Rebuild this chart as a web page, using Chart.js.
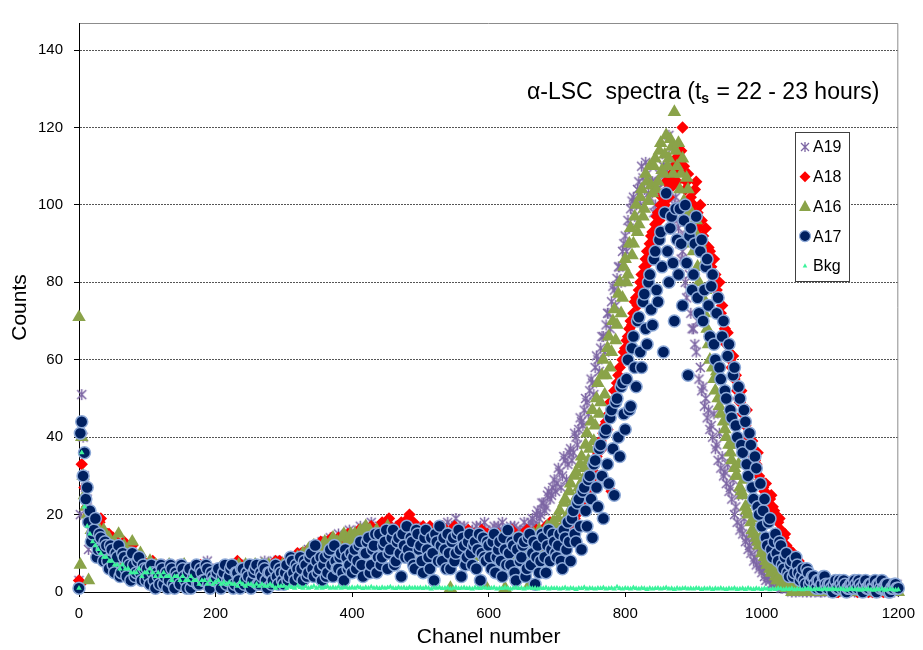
<!DOCTYPE html>
<html>
<head>
<meta charset="utf-8">
<script src="https://cdn.jsdelivr.net/npm/chart.js@4.4.0/dist/chart.umd.min.js"></script>
<style>html,body{margin:0;padding:0;background:#fff}</style>
</head>
<body>
<canvas id="chart" width="923" height="650"></canvas>
<script>
// sample spectra: one point every 2 channels, background: every 4 channels
var channels = [];
for (var c = 0; c <= 1200; c += 2) channels.push(c);
var bkgChannels = [];
for (var b = 0; b <= 1200; b += 4) bkgChannels.push(b);

var yTicks = [0, 20, 40, 60, 80, 100, 120, 140];
var xTicks = [0, 200, 400, 600, 800, 1000, 1200];

// counts, 50 values per 100 channels
var a19 = [
  3,20,51,40,30,27,24,11,20,18, 17,16,15,14,18,12,13,15,12,10, 14,11,10,13,11,8,9,10,12,7, 8,9,10,11,7,6,9,8,6,7, 8,5,7,6,5,8,6,4,4,5,
  5,6,7,4,3,5,6,3,4,7, 5,4,2,5,6,3,4,6,3,5, 5,3,7,4,3,6,4,5,6,3, 2,5,5,4,3,6,4,3,6,5, 5,4,3,6,8,3,4,5,6,4,
  4,5,6,4,3,6,5,3,7,5, 4,6,2,4,6,3,5,7,3,5, 7,4,4,6,6,3,5,7,3,5, 7,4,4,6,6,5,8,4,5,7, 7,5,6,8,4,6,8,5,6,7,
  7,6,5,7,8,5,6,8,9,7, 7,9,10,8,6,7,8,10,11,9, 9,11,12,8,7,12,10,9,13,11, 9,13,11,10,14,12,10,13,12,11, 15,12,11,14,13,11,10,15,16,13,
  13,14,15,11,12,16,17,13,14,15, 16,12,13,17,18,14,15,13,12,16, 17,15,14,13,16,17,13,12,15,14, 11,16,17,13,14,15,12,17,16,11, 13,16,15,12,10,14,14,17,12,13,
  14,12,11,16,15,14,13,11,16,15, 12,16,14,13,17,15,13,17,15,12, 18,15,14,17,16,13,19,16,15,17, 13,15,17,14,14,16,12,15,16,13, 15,17,13,15,17,12,14,18,16,14,
  15,14,13,16,17,12,14,17,16,15, 18,14,13,16,15,13,17,15,14,17, 16,13,12,16,15,14,18,16,14,17, 16,18,19,17,17,20,21,19,20,23, 23,21,22,25,26,24,25,27,29,26,
  28,32,31,27,30,35,34,29,33,36, 37,34,36,41,40,38,42,45,44,43, 47,50,49,46,52,55,54,51,58,61, 60,57,63,66,66,62,69,72,72,68, 75,79,78,74,81,84,84,80,88,90,
  92,88,96,94,99,101,102,97,100,104, 106,100,110,107,104,111,108,103,102,106, 106,98,100,104,104,108,98,103,110,106, 113,110,118,108,106,111,100,102,96,94, 90,86,88,92,80,76,78,82,72,68,
  68,64,62,70,55,58,52,53,48,50, 45,47,42,43,40,46,37,38,34,41, 32,35,30,31,28,33,26,27,24,29, 20,22,18,25,16,17,15,19,13,14, 11,12,10,14,8,9,7,11,6,7,
  5,6,4,3,4,5,3,2,2,4, 3,2,2,3,1,1,2,2,1,1, 1,2,0,1,1,0,2,1,1,2, 0,1,1,0,1,2,0,1,1,0, 2,1,1,0,0,1,1,2,1,0,
  1,2,0,1,2,0,1,1,1,2, 0,1,1,0,2,1,1,2,0,1, 1,0,1,2,2,1,0,1,1,0, 1,2,0,1,1,0,2,1,1,1, 0,2,1,0,1,1,2,0,1,2,
  1
];
var a18 = [
  3,2,33,30,27,24,22,20,19,17, 18,19,16,15,17,18,19,16,14,13, 13,15,15,11,12,14,11,12,13,9, 10,11,12,13,9,8,11,10,8,12, 10,7,9,9,7,6,8,8,6,7,
  7,6,5,7,8,3,4,5,6,4, 3,6,7,5,5,3,4,7,6,4, 2,5,5,6,7,4,3,5,6,3, 4,6,5,4,3,5,6,3,4,7, 5,4,2,6,6,3,4,5,5,4,
  3,5,6,4,4,6,5,3,7,5, 3,6,6,4,4,7,8,5,5,3, 3,6,6,4,4,5,7,6,5,3, 3,5,6,4,5,7,7,6,4,5, 6,4,5,7,8,5,6,8,7,6,
  5,7,8,6,6,8,9,7,7,9, 10,8,6,10,9,7,8,10,11,9, 7,11,10,8,12,10,8,13,11,9, 9,12,13,10,10,14,12,11,9,13, 14,12,11,14,13,11,10,15,12,13,
  11,13,14,12,12,16,15,14,13,11, 16,14,12,15,17,13,14,16,15,12, 13,17,18,15,16,13,14,19,17,15, 15,12,13,17,16,15,18,14,14,17, 17,19,20,16,15,18,13,15,16,14,
  14,16,17,13,12,15,15,17,16,12, 13,15,11,13,14,16,17,11,12,14, 15,12,10,13,14,17,16,11,13,15, 11,14,15,12,12,16,14,11,10,15, 13,12,15,14,11,16,14,10,12,15,
  13,11,10,14,15,12,12,15,14,10, 11,14,13,12,9,13,12,16,15,11, 11,13,14,12,10,15,13,11,16,14, 12,15,14,12,11,16,13,14,15,12, 12,15,17,13,14,18,16,15,13,16,
  15,14,13,16,17,15,16,18,19,17, 18,20,21,19,20,22,24,21,23,25, 27,24,26,28,30,29,32,31,34,35, 36,38,39,37,41,43,44,42,46,49, 26,48,52,50,54,56,58,55,60,62,
  63,65,66,68,70,69,72,75,76,74, 78,80,82,79,84,86,88,85,90,92, 93,91,95,97,98,96,100,102,103,100, 106,104,102,107,108,105,110,112,106,109, 112,114,120,110,104,106,108,100,102,98,
  100,104,106,98,94,100,96,92,90,94, 86,89,88,84,80,86,82,78,76,80, 72,74,70,68,64,67,62,60,58,61, 55,56,52,50,49,52,46,44,43,47, 40,41,38,39,35,34,33,36,30,29,
  28,27,26,28,25,23,24,25,22,21, 20,19,18,19,16,15,14,15,12,11, 11,10,9,10,8,7,7,8,6,5, 5,6,4,3,4,5,3,2,3,4, 2,3,2,1,1,2,2,1,1,2,
  1,2,2,1,1,0,0,1,2,1, 1,2,1,0,0,1,2,1,1,2, 0,1,1,0,2,1,1,2,0,1, 1,0,1,2,2,1,0,1,1,0, 1,2,0,1,1,0,2,1,1,2,
  1
];
var a16 = [
  71,7,40,30,25,22,20,3,18,16, 15,19,17,13,14,16,13,12,16,14, 12,10,14,13,11,9,13,12,10,15, 12,8,9,12,11,7,8,10,10,13, 7,8,9,6,8,10,6,7,7,5,
  6,7,8,4,5,6,7,3,4,5, 6,4,3,6,5,2,7,5,4,6, 6,3,2,5,5,4,3,7,6,2, 4,5,5,3,2,6,4,5,6,2, 3,6,5,3,4,5,2,4,5,3,
  3,4,5,6,4,2,6,5,2,4, 5,3,3,6,6,4,4,7,2,5, 5,3,7,5,3,6,6,4,4,7, 5,3,3,6,7,4,5,6,4,7, 6,4,3,6,7,5,5,3,6,7,
  5,6,7,5,4,7,8,5,6,8, 9,7,5,8,10,6,7,9,11,8, 8,10,12,7,6,11,10,8,9,12, 13,10,8,12,11,9,14,11,9,13, 12,10,10,14,15,12,11,13,13,15,
  12,14,15,11,10,13,16,12,13,15, 17,13,11,16,14,10,12,15,16,11, 10,14,15,12,13,16,17,13,11,15, 14,11,9,14,15,12,12,14,16,11, 10,13,14,16,13,11,15,12,11,14,
  14,12,10,15,13,11,9,13,15,10, 11,14,12,9,8,13,14,11,10,15, 13,9,1,12,12,10,9,15,14,11, 11,13,8,12,13,10,10,14,12,9, 7,12,14,10,9,13,11,2,13,10,
  10,11,12,9,8,12,13,10,11,14, 9,12,1,8,12,13,10,9,14,12, 8,11,11,14,13,10,9,13,12,10, 2,12,10,15,14,11,11,16,13,12, 15,14,12,17,16,13,14,18,18,16,
  15,19,21,16,17,23,24,19,20,26, 28,22,23,30,31,25,27,33,35,29, 32,38,41,34,37,44,47,39,43,50, 54,46,49,56,60,51,56,63,66,58, 62,70,73,65,69,77,80,72,76,84,
  86,80,82,90,94,87,90,97,100,93, 95,102,104,97,99,108,106,101,110,105, 103,110,112,104,106,114,116,109,108,113, 118,110,112,117,115,108,124,114,110,116, 104,108,112,101,98,107,104,99,94,90,
  88,93,96,84,80,90,84,76,72,78, 68,64,60,66,58,55,52,57,50,48, 46,50,44,42,40,45,38,36,34,38, 32,30,30,33,27,26,25,29,22,21, 20,23,18,16,15,19,14,13,12,14,
  10,11,9,8,7,9,6,5,5,6, 4,3,3,4,2,2,2,3,1,1, 1,2,0,1,1,0,0,1,1,0, 0,1,1,0,0,1,0,0,1,0, 0,1,1,0,0,1,0,0,1,0,
  0,1,0,0,1,0,1,0,0,1, 0,0,1,0,1,0,0,1,0,0, 1,0,0,1,0,0,1,0,1,0, 0,1,0,0,1,0,0,1,0,0, 1,0,1,0,0,1,0,0,1,0,
  0
];
var a17 = [
  1,41,44,30,36,24,27,18,21,13, 15,16,19,9,11,15,14,11,8,13, 12,8,6,12,11,7,5,10,9,12, 4,5,10,9,6,4,8,7,3,10, 7,4,5,8,9,5,3,7,6,3,
  6,4,2,7,5,3,1,5,4,2, 7,6,2,4,5,1,3,7,6,2, 1,5,4,3,2,7,6,4,3,1, 5,6,1,3,4,5,7,2,2,6, 5,3,3,7,6,2,1,5,4,3,
  3,5,6,2,1,4,5,7,2,3, 4,6,7,1,2,5,5,3,1,6, 6,2,3,5,4,7,1,3,5,6, 7,2,2,5,4,7,6,3,1,5, 5,2,3,6,7,4,2,6,5,3,
  2,5,7,3,4,9,8,5,3,7, 6,4,9,6,3,8,7,4,5,9, 10,6,4,12,8,5,6,9,3,7, 9,4,5,10,11,7,4,12,8,6, 6,9,10,5,3,11,9,6,7,10,
  5,9,11,6,8,12,13,7,4,10, 10,13,14,5,7,11,12,15,5,9, 15,7,9,12,13,16,6,10,11,14, 16,7,8,13,14,10,4,15,12,9, 17,11,9,14,13,7,6,16,15,11,
  12,8,5,14,16,11,9,6,14,10, 3,15,13,8,17,12,8,14,11,6, 15,10,6,13,14,8,10,15,16,11, 4,14,12,7,9,13,15,10,7,12, 13,6,11,15,3,10,14,9,8,13,
  12,9,6,13,15,5,9,11,13,8, 4,14,11,7,16,10,7,13,12,5, 3,11,14,8,9,12,13,4,6,14, 15,7,10,13,2,9,12,5,8,15, 14,9,5,12,16,8,11,15,13,10,
  9,12,15,8,6,16,14,11,18,13, 8,19,21,15,13,23,24,17,11,26, 27,21,17,29,30,24,14,33,34,27, 22,37,38,30,19,41,42,33,28,45, 47,37,25,49,50,40,35,53,54,46,
  42,55,60,47,48,63,66,58,53,70, 71,62,58,75,77,68,64,80,82,73, 69,86,88,78,75,91,93,84,62,98, 103,88,80,94,97,85,70,99,91,82, 99,90,74,96,100,85,56,92,94,78,
  82,90,97,76,72,88,91,70,78,84, 86,74,66,79,82,64,60,72,76,58, 55,66,70,52,50,61,64,47,45,56, 58,43,40,53,50,38,36,47,44,33, 30,41,38,27,24,35,32,22,20,28,
  17,21,24,14,12,18,19,11,9,13, 15,10,8,13,12,7,6,9,10,5, 4,7,8,4,5,9,7,5,3,4, 6,3,2,6,5,2,3,4,4,2, 1,3,3,1,2,4,4,2,1,2,
  2,1,0,2,3,1,1,3,2,1, 3,2,0,1,1,2,2,1,3,2, 1,3,2,1,0,2,3,1,1,2, 2,1,1,3,0,2,2,1,3,1, 1,2,2,0,0,1,1,2,2,1,
  1
];
var bkg = [
  1,36,22,17,15, 13,12,11,10,9, 9,8,8,7,7, 6,7,6,6,5, 5,5,6,4,5,
  5,6,5,4,5, 4,5,4,4,3, 4,4,3,4,3, 3,4,3,3,2, 3,3,2,3,2,
  2.5,3,2,2.5,2, 2.5,2,2,1.5,2.5, 2,1.5,2,2,1.5, 2,1.5,2,1.5,1.5, 2,1.5,1,1.5,1.5,
  1.5,1,1.5,1.2,1, 1.5,1.2,1,1.4,1, 1.2,1.5,1,1.3,1, 1.2,1.4,1,1.2,1, 1.3,1,1.2,1.1,1,
  1.2,1,1.3,1.1,0.9, 1.2,1,1.3,1,1.1, 0.9,1.2,1,1.1,1.3, 1,0.9,1.2,1,1.1, 0.9,1.2,1,1.1,1,
  1.1,0.9,1.2,1,0.8, 1.1,1,1.2,0.9,1, 1.1,0.8,1,1.2,0.9, 1,1.1,0.9,1,0.8, 1.1,1,0.9,1.2,1,
  0.9,1,1.1,0.8,1, 0.9,1.2,1,0.8,1, 1.1,0.9,1,0.8,1, 1.1,0.9,1,0.8,1, 0.9,1.1,0.8,1,0.9,
  1,0.8,0.9,1.1,0.8, 1,0.9,0.7,1,0.9, 1.2,0.8,1,0.9,0.8, 1,0.9,1.1,0.8,0.9, 1,0.8,1.3,0.9,0.8,
  1,0.9,0.8,1.1,0.9, 0.8,1,0.9,0.7,1, 0.8,0.9,1,0.8,0.9, 1.1,0.8,0.9,0.7,1, 0.8,0.9,1,0.8,0.9,
  0.8,1,0.9,0.7,0.9, 0.8,1,0.7,0.9,0.8, 1,0.8,0.7,0.9,0.8, 1,0.7,0.8,0.9,0.7, 1,0.8,0.7,0.9,0.8,
  0.7,0.9,0.8,0.6,0.8, 0.7,0.9,0.8,0.6,0.8, 0.7,0.9,0.6,0.8,0.7, 0.6,0.8,0.9,0.7,0.6, 0.8,0.7,0.6,0.8,0.7,
  0.6,0.8,0.7,0.6,0.8, 0.7,0.5,0.7,0.8,0.6, 0.7,0.5,0.7,0.6,0.8, 0.6,0.5,0.7,0.6,0.8, 0.5,0.6,0.7,0.6,0.5,
  0.6
];

var PURPLE = '#7d66a4', RED = '#ff0000', OLIVE = '#8aa349', NAVY = '#002060', NAVY_EDGE = '#8eaad8', MINT = '#3cf39c';
var FONT = '"Liberation Sans", Arial, sans-serif';

// excel style asterisk marker (vertical + X)
var starImg = function(size, lw){
  var cv = document.createElement('canvas');
  cv.width = size; cv.height = size;
  var g = cv.getContext('2d');
  g.strokeStyle = PURPLE; g.lineWidth = lw;
  var m = size / 2, e = 1;
  g.beginPath();
  g.moveTo(m, e); g.lineTo(m, size - e);
  g.moveTo(e + 1, e + 1); g.lineTo(size - e - 1, size - e - 1);
  g.moveTo(size - e - 1, e + 1); g.lineTo(e + 1, size - e - 1);
  g.stroke();
  return cv;
};
var star = starImg(13, 1.5);

var pts = function(xs, vals){
  return xs.map(function(c, i){ return {x: c, y: vals[i]}; });
};

var datasets = [
  {label: 'A19', data: pts(channels, a19), order: 5, pointStyle: star, pointRadius: 6.5,
   backgroundColor: PURPLE, borderColor: PURPLE},
  {label: 'A18', data: pts(channels, a18), order: 4, pointStyle: 'rectRot', pointRadius: 6.2,
   backgroundColor: RED, borderColor: RED, pointBorderWidth: 0},
  {label: 'A16', data: pts(channels, a16), order: 3, pointStyle: 'triangle', pointRadius: 7.8,
   backgroundColor: OLIVE, borderColor: OLIVE, pointBorderWidth: 0},
  {label: 'A17', data: pts(channels, a17), order: 2, pointStyle: 'circle', pointRadius: 6,
   backgroundColor: NAVY, borderColor: NAVY_EDGE, pointBorderWidth: 1.5},
  {label: 'Bkg', data: pts(bkgChannels, bkg), order: 1, pointStyle: 'triangle', pointRadius: 3.2,
   backgroundColor: MINT, borderColor: MINT, pointBorderWidth: 0}
];
datasets.forEach(function(d){ d.clip = false; d.showLine = false; });

var drawGlyph = function(ctx, name, x, y){
  ctx.save();
  if (name === 'A19') {
    ctx.drawImage(starImg(12, 1.3), x - 6, y - 6);
  } else if (name === 'A18') {
    ctx.fillStyle = RED; ctx.beginPath();
    ctx.moveTo(x - 5.5, y); ctx.lineTo(x, y - 5.5); ctx.lineTo(x + 5.5, y); ctx.lineTo(x, y + 5.5);
    ctx.closePath(); ctx.fill();
  } else if (name === 'A16') {
    ctx.fillStyle = OLIVE; ctx.beginPath();
    ctx.moveTo(x, y - 6.5); ctx.lineTo(x + 6, y + 4.5); ctx.lineTo(x - 6, y + 4.5);
    ctx.closePath(); ctx.fill();
  } else if (name === 'A17') {
    ctx.fillStyle = NAVY; ctx.strokeStyle = NAVY_EDGE; ctx.lineWidth = 1.2;
    ctx.beginPath(); ctx.arc(x, y, 5.5, 0, Math.PI * 2); ctx.fill(); ctx.stroke();
  } else {
    ctx.fillStyle = MINT; ctx.beginPath();
    ctx.moveTo(x, y - 2.5); ctx.lineTo(x + 2.3, y + 1.8); ctx.lineTo(x - 2.3, y + 1.8);
    ctx.closePath(); ctx.fill();
  }
  ctx.restore();
};

var decor = {
  id: 'decor',
  beforeDatasetsDraw: function(chart){
    var a = chart.chartArea, ctx = chart.ctx;
    ctx.save();
    ctx.lineWidth = 1;
    ctx.strokeStyle = '#8c8c8c';
    ctx.beginPath();
    ctx.moveTo(a.left, a.top + 0.5); ctx.lineTo(a.right - 0.5, a.top + 0.5); ctx.lineTo(a.right - 0.5, a.bottom);
    ctx.stroke();
    ctx.strokeStyle = '#000';
    ctx.beginPath();
    ctx.moveTo(a.left + 0.5, a.top); ctx.lineTo(a.left + 0.5, a.bottom + 0.5); ctx.lineTo(a.right, a.bottom + 0.5);
    ctx.stroke();
    ctx.restore();
  },
  afterDraw: function(chart){
    var ctx = chart.ctx;
    ctx.save();
    // title with subscript
    ctx.fillStyle = '#000';
    ctx.textBaseline = 'alphabetic';
    var x = 527, y = 99;
    ctx.font = '23px ' + FONT;
    var p1 = '\u03b1-LSC  spectra (t';
    ctx.fillText(p1, x, y); x += ctx.measureText(p1).width;
    ctx.font = 'bold 14px ' + FONT;
    ctx.fillText('s', x, y + 4); x += ctx.measureText('s').width + 1;
    ctx.font = '23px ' + FONT;
    ctx.fillText(' = 22 - 23 hours)', x, y);
    // legend
    var lx = 795, ly = 132, lw = 54, lh = 149;
    ctx.fillStyle = '#fff'; ctx.fillRect(lx, ly, lw, lh);
    ctx.strokeStyle = '#404040'; ctx.lineWidth = 1;
    ctx.strokeRect(lx + 0.5, ly + 0.5, lw, lh);
    ctx.font = '16px ' + FONT;
    ctx.textBaseline = 'middle';
    ctx.fillStyle = '#000';
    datasets.forEach(function(d, i){
      var yy = 147 + i * 29.7;
      drawGlyph(ctx, d.label, 805, yy);
      ctx.fillText(d.label, 813, yy + 1);
    });
    ctx.restore();
  }
};

new Chart(document.getElementById('chart'), {
  type: 'scatter',
  data: {datasets: datasets},
  options: {
    responsive: false,
    animation: false,
    events: [],
    layout: {padding: {left: 0, right: 16, top: 23, bottom: 0}},
    plugins: {legend: {display: false}, tooltip: {enabled: false}},
    scales: {
      x: {
        type: 'linear', min: 0, max: 1200,
        afterBuildTicks: function(s){ s.ticks = xTicks.map(function(v){ return {value: v}; }); },
        afterFit: function(s){ s.height = 58; },
        ticks: {color: '#000', font: {size: 15, family: FONT}, padding: 8, maxRotation: 0,
                callback: function(v){ return String(v); }},
        grid: {drawOnChartArea: false, tickLength: 5, color: '#000'},
        border: {color: '#000'},
        title: {display: true, text: 'Chanel number', color: '#000',
                font: {size: 21, family: FONT}, padding: {top: 0, bottom: 0}}
      },
      y: {
        min: 0, max: 147,
        afterBuildTicks: function(s){ s.ticks = yTicks.map(function(v){ return {value: v}; }); },
        afterFit: function(s){ s.width = 79; },
        ticks: {color: '#000', font: {size: 15, family: FONT}, padding: 11},
        grid: {color: '#555', tickColor: '#000', tickLength: 5},
        border: {color: '#000', dash: [2, 1]},
        title: {display: true, text: 'Counts', color: '#000',
                font: {size: 21, family: FONT}, padding: {top: 8, bottom: 0}}
      }
    }
  },
  plugins: [decor]
});
</script>
</body>
</html>
